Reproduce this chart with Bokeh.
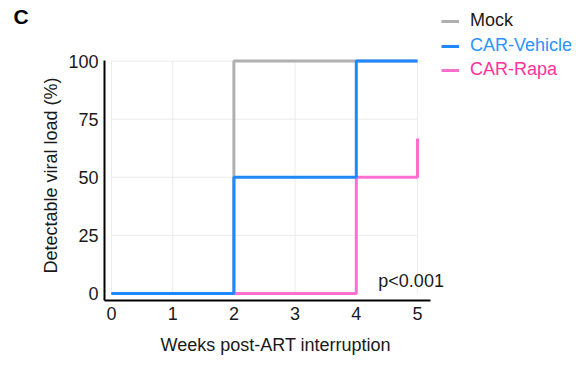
from bokeh.plotting import figure
from bokeh.models import Range1d, Legend, LegendItem, Label, FixedTicker, Title
from bokeh.layouts import row
from bokeh.embed import file_html
from bokeh.resources import INLINE

# Data
mock_x = [0, 2, 5]
mock_y = [0, 100, 100]
veh_x = [0, 2, 4, 5]
veh_y = [0, 50, 100, 100]
rapa_x = [0, 2, 4, 5]
rapa_y = [0, 0, 50, 66.7]
x_ticks = [0, 1, 2, 3, 4, 5]
y_ticks = [0, 25, 50, 75, 100]
series_names = ["Mock", "CAR-Vehicle", "CAR-Rapa"]
x_label = "Weeks post-ART interruption"
y_label = "Detectable viral load (%)"
p_text = "p<0.001"
panel_letter = "C"

FONT = "Liberation Sans"
GREY = "#b0b0b0"
BLUE = "#1f88ff"
PINK = "#ff6fcf"
TXT = "#1a1a1a"

# geometry (pixels)
H = 365
C_W = 32
P_W = 548
BORDER_L = 72
BORDER_B = 63
PX_X = 61.2      # px per week
PX_Y = 2.34      # px per percent
X0_OFF = 7.0     # px between axis line and x=0
Y0_OFF = 7.0     # px between axis line and y=0
frame_w = P_W - BORDER_L
frame_h = H - BORDER_B
x_start = -X0_OFF / PX_X
x_end = x_start + frame_w / PX_X
y_start = -Y0_OFF / PX_Y
y_end = y_start + frame_h / PX_Y

p = figure(width=P_W, height=H, output_backend="svg", toolbar_location=None,
           x_range=Range1d(x_start, x_end), y_range=Range1d(y_start, y_end),
           min_border_left=BORDER_L, min_border_right=0, min_border_top=0,
           min_border_bottom=BORDER_B)
p.outline_line_color = None
p.xgrid.visible = False
p.ygrid.visible = False

# grid lines within the data extent
p.segment(x0=x_ticks, x1=x_ticks, y0=[min(y_ticks)] * len(x_ticks), y1=[max(y_ticks)] * len(x_ticks),
          line_color="#ececec", line_width=1)
gy = [t for t in y_ticks if t > 0]
p.segment(x0=[min(x_ticks)] * len(gy), x1=[max(x_ticks)] * len(gy), y0=gy, y1=gy,
          line_color="#ececec", line_width=1)

r_mock = p.step(mock_x, mock_y, mode="after", line_color=GREY, line_width=3)
r_rapa = p.step(rapa_x, rapa_y, mode="after", line_color=PINK, line_width=3)
r_veh = p.step(veh_x, veh_y, mode="after", line_color=BLUE, line_width=3)

for ax in (p.xaxis[0], p.yaxis[0]):
    ax.axis_line_width = 2
    ax.axis_line_color = "black"
    ax.major_tick_line_color = None
    ax.minor_tick_line_color = None
    ax.major_tick_out = 0
    ax.major_tick_in = 0
    ax.minor_tick_out = 0
    ax.minor_tick_in = 0
    ax.major_label_text_font = FONT
    ax.major_label_text_font_size = "18px"
    ax.major_label_text_color = TXT
    ax.major_label_standoff = 6

p.xaxis[0].ticker = FixedTicker(ticks=x_ticks)
p.yaxis[0].ticker = FixedTicker(ticks=y_ticks)
p.xaxis[0].bounds = (x_start, max(x_ticks) + 13 / PX_X)
p.yaxis[0].bounds = (y_start, max(y_ticks) + 1 / PX_Y)

# axis titles (as side-panel titles so they can be centred on the data area)
p.add_layout(Title(text=x_label, align="left", offset=56, standoff=21, text_font=FONT,
                   text_font_size="18px", text_font_style="normal", text_color=TXT), "below")
p.add_layout(Title(text=y_label, align="left", offset=27, standoff=10, text_font=FONT,
                   text_font_size="18px", text_font_style="normal", text_color=TXT), "left")

# p-value
p.add_layout(Label(x=4.36, y=5.6, text=p_text, text_font=FONT, text_font_size="18px",
                   text_color=TXT, text_baseline="middle", text_align="left"))

# legends (one per series so each label keeps its own colour)
legend_specs = [(series_names[0], r_mock, TXT, 269),
                (series_names[1], r_veh, "#2a93ff", 244),
                (series_names[2], r_rapa, "#ff3399", 220)]
for name, rend, col, yy in legend_specs:
    lg = Legend(items=[LegendItem(label=name, renderers=[rend])], location=(337, yy),
                label_text_font=FONT, label_text_font_size="18px", label_text_color=col,
                glyph_width=18, label_standoff=11, padding=0, margin=0, spacing=0,
                border_line_color=None, background_fill_alpha=0)
    p.add_layout(lg, "center")

# panel letter in its own narrow figure
c = figure(width=C_W, height=H, output_backend="svg", toolbar_location=None,
           x_range=Range1d(0, C_W), y_range=Range1d(0, H),
           min_border=0)
c.outline_line_color = None
c.axis.visible = False
c.grid.visible = False
c.add_layout(Label(x=13, y=H - 19, text=panel_letter, text_font=FONT, text_font_size="21px",
                   text_font_style="bold", text_color="black", text_baseline="middle",
                   text_align="left"))

layout = row(c, p, spacing=0)
open("out.html", "w").write(file_html(layout, INLINE))
